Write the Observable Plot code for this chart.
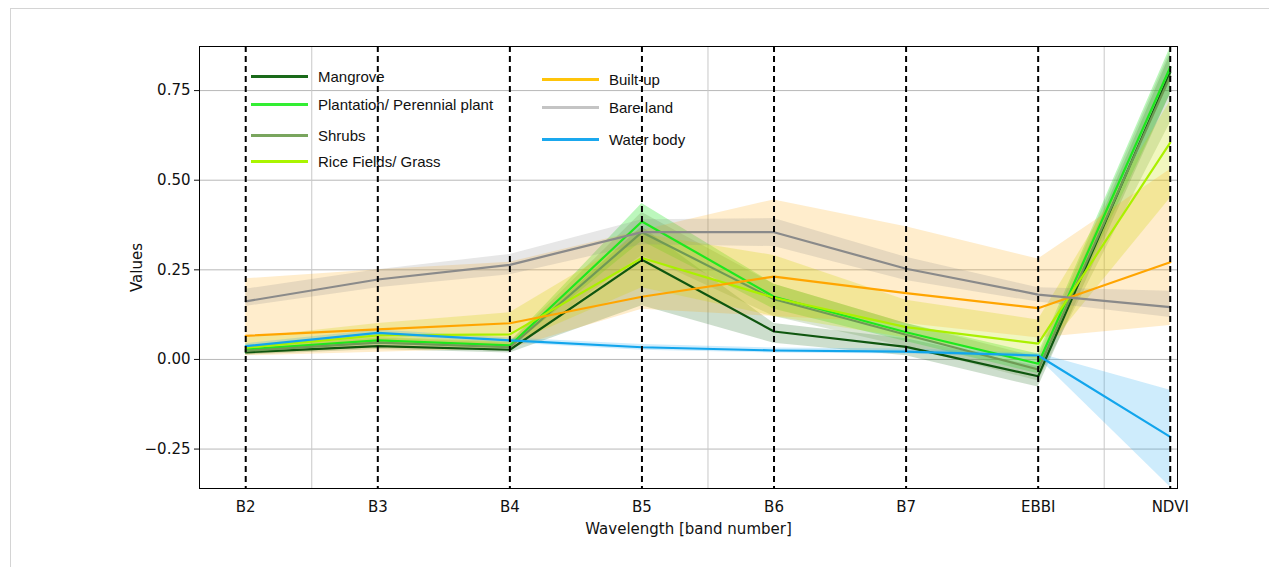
<!DOCTYPE html>
<html>
<head>
<meta charset="utf-8">
<script src="https://cdn.jsdelivr.net/npm/d3@7"></script>
<script src="https://cdn.jsdelivr.net/npm/@observablehq/plot@0.6"></script>
<style>
  html, body { margin: 0; padding: 0; background: #fff; }
  #wrap { position: relative; width: 1269px; height: 567px; overflow: hidden; }
  #border { position: absolute; left: 10px; top: 8px; right: 0; bottom: 0;
            border-top: 1px solid #d4d4d4; border-left: 1px solid #d4d4d4; pointer-events: none; }
  #legend { position: absolute; left: 0; top: 0; font-family: "Liberation Sans", Arial, sans-serif;
            font-size: 15px; color: #111; }
  .item { position: absolute; display: flex; align-items: center; white-space: nowrap; }
  .sw { width: 57px; height: 2.5px; margin-right: 10px; }
</style>
</head>
<body>
<div id="wrap">
  <div id="chart"></div>
  <div id="legend"></div>
  <div id="border"></div>
</div>
<script>
// ---- data ----
const bands = ["B2", "B3", "B4", "B5", "B6", "B7", "EBBI", "NDVI"];
const classes = ["Mangrove", "Plantation/ Perennial plant", "Shrubs", "Rice Fields/ Grass", "Built-up", "Bare land", "Water body"];

const mangroveMean = [0.020, 0.037, 0.027, 0.278, 0.078, 0.035, -0.047, 0.800];
const mangroveLo   = [0.012, 0.028, 0.018, 0.150, 0.045, 0.010, -0.077, 0.740];
const mangroveHi   = [0.028, 0.046, 0.036, 0.370, 0.100, 0.058, -0.020, 0.850];

const plantationMean = [0.028, 0.053, 0.039, 0.385, 0.175, 0.076, -0.012, 0.815];
const plantationLo   = [0.020, 0.043, 0.030, 0.330, 0.140, 0.050, -0.040, 0.740];
const plantationHi   = [0.036, 0.063, 0.048, 0.435, 0.210, 0.100, 0.015, 0.870];

const shrubsMean = [0.024, 0.047, 0.034, 0.355, 0.168, 0.069, -0.028, 0.790];
const shrubsLo   = [0.014, 0.034, 0.022, 0.290, 0.120, 0.035, -0.060, 0.660];
const shrubsHi   = [0.034, 0.060, 0.046, 0.410, 0.210, 0.100, 0.005, 0.860];

const riceMean = [0.033, 0.067, 0.070, 0.283, 0.172, 0.090, 0.044, 0.605];
const riceLo   = [0.020, 0.045, 0.040, 0.200, 0.120, 0.060, 0.000, 0.450];
const riceHi   = [0.060, 0.100, 0.130, 0.350, 0.290, 0.165, 0.110, 0.720];

const builtMean = [0.066, 0.084, 0.101, 0.175, 0.231, 0.185, 0.143, 0.271];
const builtLo   = [0.010, 0.020, 0.030, 0.140, 0.120, 0.100, 0.060, 0.095];
const builtHi   = [0.225, 0.250, 0.271, 0.360, 0.445, 0.370, 0.280, 0.530];

const bareMean = [0.162, 0.223, 0.264, 0.355, 0.355, 0.253, 0.181, 0.146];
const bareLo   = [0.148, 0.200, 0.236, 0.320, 0.315, 0.220, 0.160, 0.117];
const bareHi   = [0.196, 0.250, 0.293, 0.390, 0.393, 0.285, 0.200, 0.190];

const waterMean = [0.037, 0.074, 0.053, 0.034, 0.025, 0.022, 0.011, -0.216];
const waterLo   = [0.030, 0.066, 0.046, 0.026, 0.018, 0.015, 0.005, -0.356];
const waterHi   = [0.044, 0.082, 0.060, 0.042, 0.032, 0.029, 0.017, -0.086];

const yTicks = [-0.25, 0, 0.25, 0.5, 0.75];
const xGrid = [0.5, 3.5, 6.5];

// ---- styles ----
const lineColors   = ["#0f560f", "#1ee81e", "#6f9a55", "#aaf000", "#ffa500", "#8a8a8a", "#12a5ec"];
const legendColors = ["#1a6a1a", "#33ee33", "#79a55e", "#aaf500", "#ffc40a", "#c4c4c4", "#1aa8ee"];
const fillColors   = ["#1a6a1a", "#22e622", "#6f9a55", "#c8e000", "#ffa500", "#888888", "#20a8f0"];
const fillOps      = [0.22, 0.3, 0.25, 0.25, 0.2, 0.2, 0.22];

const series = [
  [mangroveMean, mangroveLo, mangroveHi],
  [plantationMean, plantationLo, plantationHi],
  [shrubsMean, shrubsLo, shrubsHi],
  [riceMean, riceLo, riceHi],
  [builtMean, builtLo, builtHi],
  [bareMean, bareLo, bareHi],
  [waterMean, waterLo, waterHi]
];

const rows = [];
series.forEach(([m, lo, hi], c) => {
  bands.forEach((b, i) => rows.push({cls: classes[c], ci: c, x: i, band: b, mean: m[i], lo: lo[i], hi: hi[i]}));
});

const marks = [
  Plot.ruleY(yTicks, {stroke: "#b8b8b8", strokeWidth: 1}),
  Plot.ruleX(xGrid, {stroke: "#c8c8c8", strokeWidth: 1})
];
classes.forEach((cl, c) => {
  marks.push(Plot.areaY(rows.filter(d => d.ci === c), {
    x: "x", y1: "lo", y2: "hi", fill: fillColors[c], fillOpacity: fillOps[c], clip: true
  }));
});
classes.forEach((cl, c) => {
  marks.push(Plot.line(rows.filter(d => d.ci === c), {
    x: "x", y: "mean", stroke: lineColors[c], strokeWidth: 2.2, clip: true
  }));
});
marks.push(
  Plot.ruleX(d3.range(bands.length), {stroke: "#000", strokeWidth: 2, strokeDasharray: "6,4"}),
  Plot.axisY({ticks: yTicks, tickFormat: d => d3.format(".2f")(d).replace("-", "\u2212"),
              tickSize: 5, tickPadding: 4, fontSize: 15,
              label: "Values", labelAnchor: "center", labelOffset: 68, labelArrow: "none"}),
  Plot.axisX({ticks: d3.range(bands.length), tickFormat: i => bands[i], tickSize: 0,
              tickPadding: 13, fontSize: 15, label: null}),
  Plot.axisX({ticks: [], tickSize: 0, fontSize: 15,
              label: "Wavelength [band number]", labelAnchor: "center", labelOffset: 45, labelArrow: "none"}),
  Plot.frame({stroke: "#000", strokeWidth: 1})
);

const chart = Plot.plot({
  width: 1269,
  height: 567,
  marginLeft: 199,
  marginRight: 92,
  marginTop: 46,
  marginBottom: 79,
  x: {type: "linear", domain: [-0.35, 7.055]},
  y: {domain: [-0.36, 0.873]},
  style: {fontFamily: "'DejaVu Sans', sans-serif", fontSize: "15px", color: "#111", background: "transparent"},
  marks
});
document.getElementById("chart").appendChild(chart);

// ---- legend (inside the plot, two columns) ----
const legendPos = [
  [251, 77], [251, 105], [251, 136], [251, 162],
  [542, 80], [542, 108], [542, 140]
];
const leg = document.getElementById("legend");
classes.forEach((cl, c) => {
  const it = document.createElement("div");
  it.className = "item";
  it.style.left = legendPos[c][0] + "px";
  it.style.top = (legendPos[c][1] - 9) + "px";
  const sw = document.createElement("div");
  sw.className = "sw";
  sw.style.background = legendColors[c];
  const tx = document.createElement("span");
  tx.textContent = cl;
  it.appendChild(sw);
  it.appendChild(tx);
  leg.appendChild(it);
});
</script>
</body>
</html>
